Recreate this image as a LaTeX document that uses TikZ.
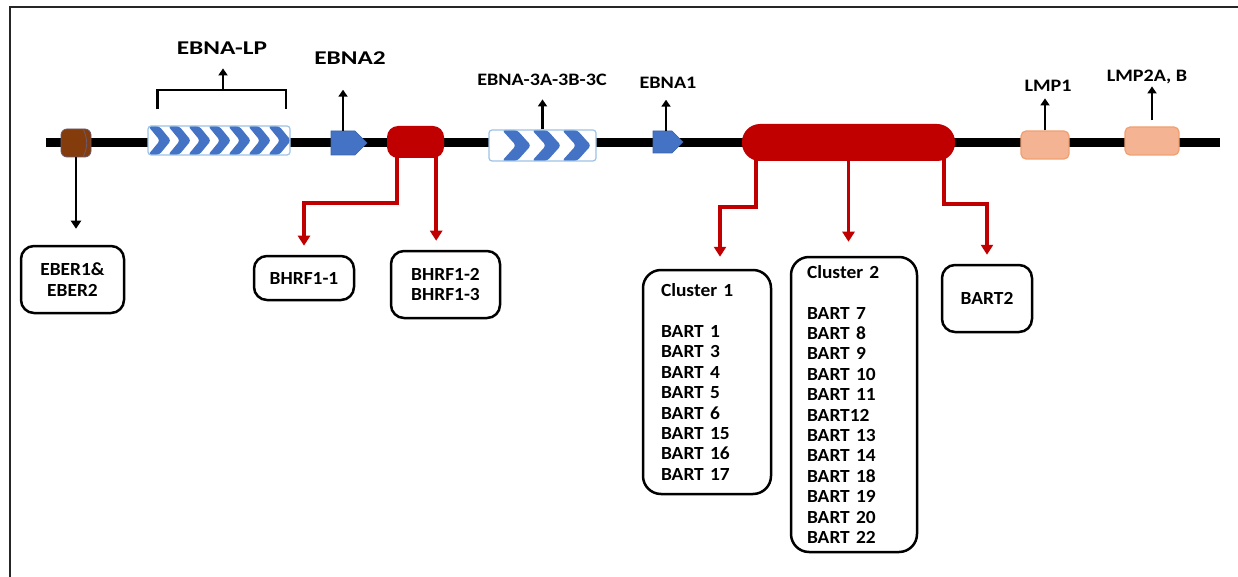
\documentclass[tikz,border=0pt]{standalone}
\usepackage{fontspec}
\setmainfont{Carlito}
\newfontfamily\biggenefont{Carlito}[FakeStretch=1.3]
\newfontfamily\genefont{Carlito}[FakeStretch=1.15]
\newfontfamily\boxfont{Carlito}[FakeStretch=1.05,WordSpace=0.7]
\usetikzlibrary{arrows.meta,calc,shapes.symbols}
\definecolor{mirred}{HTML}{C00000}
\definecolor{geneblue}{HTML}{4472C4}
\definecolor{paleblue}{HTML}{9DC3E6}
\definecolor{eberbrown}{HTML}{843C0C}
\definecolor{eberedge}{HTML}{6A5A6E}
\definecolor{lmpfill}{HTML}{F4B393}
\definecolor{lmpedge}{HTML}{F0A070}

\tikzset{
  dna/.style={line width=9pt},
  biggenename/.style={font=\biggenefont\bfseries\fontsize{19.5}{22}\selectfont, inner sep=0pt},
  genename/.style={font=\genefont\bfseries\fontsize{17.5}{20}\selectfont, inner sep=0pt},
  upmark/.style={line width=2.3pt, -{Triangle[length=7pt,width=9pt]}},
  downmark/.style={line width=2.4pt, -{Triangle[length=8pt,width=10pt]}},
  mirarrow/.style={line width=3.4pt, mirred, -{Triangle[length=10pt,width=12pt]}},
  mirbox/.style={draw, line width=2.5pt, rounded corners=13pt, align=center, inner sep=0pt,
    font=\boxfont\bfseries\fontsize{18.5}{20.4}\selectfont},
  clusterbox/.style={mirbox, align=left, rounded corners=18pt, inner ysep=0pt},
  mirpill/.style={fill=mirred, inner sep=0pt},
  lmpbox/.style={fill=lmpfill, draw=lmpedge, line width=1.2pt, rounded corners=5pt, inner sep=0pt},
  promoter/.style={signal, signal to=east, signal pointer angle=90, fill=geneblue,
    draw=geneblue!85!black, line width=0.6pt, inner sep=0pt},
  chevbox/.style={fill=white, draw=paleblue, line width=1.2pt, rounded corners=3pt, inner sep=0pt},
  chevrons/.style n args={6}{path picture={
    \foreach \k in {0,...,#1}
      \fill[geneblue] ($(path picture bounding box.north west)+(#2+\k*#3,0)$)
        -- ++(#4,0) -- ++(#5,#6) -- ++(-#5,#6) -- ++(-#4,0) -- ++(#5,-#6) -- cycle;}}
}

\begin{document}
\begin{tikzpicture}[x=1pt,y=-1pt]
\useasboundingbox (0,0) rectangle (1238,577);
\draw[line width=2pt, black!85] (1238,7) -- (10,7) -- (10,577);

\coordinate (dnastart) at (46,143);
\coordinate (dnaend) at (1220,143);
\draw[dna] (dnastart) -- (dnaend);

\node[fill=eberbrown, draw=eberedge, line width=0.8pt, rounded corners=6pt,
  minimum width=30pt, minimum height=28pt, inner sep=0pt] (eber) at (76,143) {};
\draw[eberedge, line width=0.8pt] ($(eber.north east)+(-8,1)$) to[bend left=25] ($(eber.south east)+(-8,-1)$);
\node[chevbox, chevrons={6}{0}{20}{11}{12}{14.5}, minimum width=142pt, minimum height=29pt] (ebnalp) at (219,140.5) {};
\node[promoter, minimum width=36pt, minimum height=24pt] (ebna2) at (343,143) {};
\node[mirpill, rounded corners=11pt, minimum width=57pt, minimum height=32pt] (bhrf) at (415.5,142) {};
\node[chevbox, chevrons={2}{13}{30}{15}{14}{15.5}, minimum width=107pt, minimum height=31pt] (ebna3) at (542.5,145.5) {};
\node[promoter, minimum width=30pt, minimum height=22pt] (ebna1) at (662.5,142) {};
\node[mirpill, rounded corners=18pt, minimum width=213pt, minimum height=37pt] (bart) at (848.5,142.5) {};
\node[lmpbox, minimum width=48pt, minimum height=28pt] (lmp1) at (1045,145) {};
\node[lmpbox, minimum width=54pt, minimum height=28pt] (lmp2) at (1152,141) {};

\node[biggenename] (lpname) at (222,48) {EBNA-LP};
\node[biggenename] (e2name) at (350,58) {EBNA2};
\node[genename] (e3name) at (542,80) {EBNA-3A-3B-3C};
\node[genename] (e1name) at (668,83) {EBNA1};
\node[genename] (l1name) at (1048,86) {LMP1};
\node[genename] (l2name) at (1147,77) {LMP2A, B};

\draw[line width=2.2pt] ($(ebnalp.north west)+(10,-16)$) -- ++(0,-19) -| ($(ebnalp.north east)+(-5,-16)$);
\draw[upmark] ($(ebnalp.north)+(4,-35)$) -- ++(0,-22);
\draw[upmark] (ebna2.north) -- ++(0,-41);
\draw[upmark] ($(ebna1.north)+(3.5,0)$) -- ++(0,-31);
\draw[upmark] (ebna3.north) -- ++(0,-30);
\draw[upmark] (lmp1.north) -- ++(0,-32);
\draw[upmark] ($(lmp2.north)+(0,-6)$) -- ++(0,-34);

\node[mirbox, minimum width=103pt, minimum height=67pt] (eberbox) at (72.5,279.5) {EBER1\&\\EBER2};
\node[mirbox, minimum width=100pt, minimum height=44pt] (bhrf1) at (304,278) {BHRF1-1};
\node[mirbox, minimum width=109pt, minimum height=67pt] (bhrf23) at (445.5,284.5) {BHRF1-2\\BHRF1-3};
\node[clusterbox, text width=92pt, inner xsep=18pt, minimum height=224pt] (cl1) at (707,382)
  {Cluster 1\\[20.4pt]BART 1\\BART 3\\BART 4\\BART 5\\BART 6\\BART 15\\BART 16\\BART 17};
\node[clusterbox, text width=94pt, inner xsep=16pt, minimum height=295pt] (cl2) at (854,404.5)
  {Cluster 2\\[20.4pt]BART 7\\BART 8\\BART 9\\BART 10\\BART 11\\BART12\\BART 13\\BART 14\\BART 18\\BART 19\\BART 20\\BART 22};
\node[mirbox, minimum width=90pt, minimum height=67pt] (bart2) at (987,298.5) {BART2};

\draw[downmark, shorten >=16pt] (eber.south) -- (eber.south |- eberbox.north);

\coordinate (bh1) at ($(bhrf.south west)!0.175!(bhrf.south east)+(0,-3)$);
\coordinate (bh2) at ($(bhrf.south west)!0.86!(bhrf.south east)+(0,-3)$);
\draw[mirarrow, shorten >=9pt] (bh1) -- ++(0,48) -| (bhrf1.north);
\draw[mirarrow, shorten >=9pt] (bh2) -- (bh2 |- bhrf23.north);

\coordinate (bt1) at ($(bart.south west)!0.066!(bart.south east)+(0,-4)$);
\coordinate (bt3) at ($(bart.south west)!0.948!(bart.south east)+(0,-4)$);
\draw[mirarrow, shorten >=12pt] (bt1) -- ++(0,50) -| ($(cl1.north)+(13,0)$);
\draw[mirarrow, shorten >=14pt] (bart.south) -- (bart.south |- cl2.north);
\draw[mirarrow, shorten >=9pt] (bt3) -- ++(0,47) -| (bart2.north);
\end{tikzpicture}
\end{document}
